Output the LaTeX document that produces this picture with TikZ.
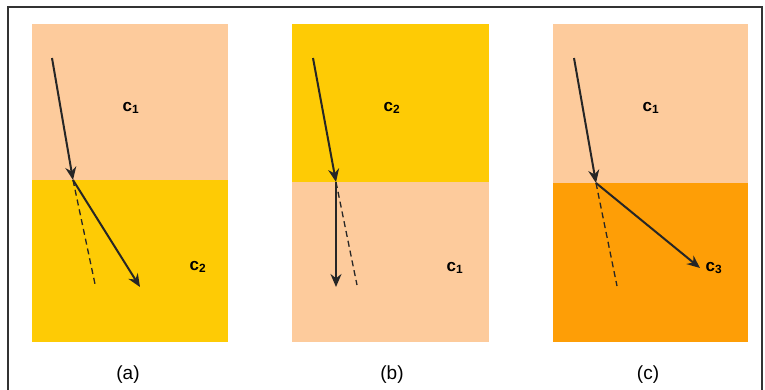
\documentclass[tikz,border=0pt]{standalone}
\usepackage{fontspec}
\setmainfont{Liberation Sans}
\usetikzlibrary{arrows.meta}
\definecolor{peach}{HTML}{FDCB9C}
\definecolor{gold}{HTML}{FECB05}
\definecolor{dorange}{HTML}{FE9E06}
\definecolor{frame}{HTML}{333333}
\tikzset{
  ray/.style={line width=2pt, draw=black!85, -{Stealth[length=13pt,width=11pt]}},
  ghost/.style={line width=1.3pt, draw=black!85, dash pattern=on 6pt off 4pt},
  medlabel/.style={font=\bfseries\fontsize{17}{19}\selectfont, inner sep=0pt},
  caption/.style={font=\fontsize{19}{21}\selectfont, inner sep=0pt}
}
\begin{document}
\begin{tikzpicture}[x=1pt,y=-1pt]
\useasboundingbox (0,0) rectangle (765,389);
\fill[white] (0,0) rectangle (765,389);
\draw[frame, line width=2pt] (8,393) -- (8,6.5) -- (762,6.5) -- (762,393);
% panel a
\fill[peach] (32,24) rectangle (228,180);
\fill[gold] (32,180) rectangle (228,342);
% panel b
\fill[gold] (292,24) rectangle (489,182);
\fill[peach] (292,182) rectangle (489,342);
% panel c
\fill[peach] (553,24) rectangle (748,183);
\fill[dorange] (553,183) rectangle (748,342);
\coordinate (a0) at (52,58);
\coordinate (a1) at (73,180);
\coordinate (a2) at (140,287);
\coordinate (a3) at (95,284);
\coordinate (b0) at (313,58);
\coordinate (b1) at (336,182);
\coordinate (b2) at (336,287);
\coordinate (b3) at (357,285);
\coordinate (c0) at (574,58);
\coordinate (c1) at (596,183);
\coordinate (c2) at (700,268);
\coordinate (c3) at (617,286);
\draw[ray] (a0) -- (a1);
\draw[ray] (a1) -- (a2);
\draw[ghost] (a1) -- (a3);
\draw[ray] (b0) -- (b1);
\draw[ray] (b1) -- (b2);
\draw[ghost] (b1) -- (b3);
\draw[ray] (c0) -- (c1);
\draw[ray] (c1) -- (c2);
\draw[ghost] (c1) -- (c3);
\node[medlabel] (la1) at (131,108) {c\textsubscript{1}};
\node[medlabel] (la2) at (198,267) {c\textsubscript{2}};
\node[medlabel] (lb2) at (392,108) {c\textsubscript{2}};
\node[medlabel] (lb1) at (455,268) {c\textsubscript{1}};
\node[medlabel] (lc1) at (651,108) {c\textsubscript{1}};
\node[medlabel] (lc3) at (714,268) {c\textsubscript{3}};
\node[caption] (capa) at (128,375) {(a)};
\node[caption] (capb) at (392,375) {(b)};
\node[caption] (capc) at (648,375) {(c)};
\end{tikzpicture}
\end{document}
